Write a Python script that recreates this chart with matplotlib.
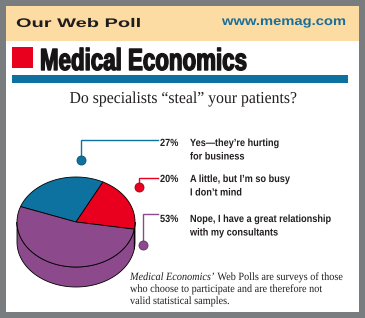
import numpy as np
import matplotlib
matplotlib.use('Agg')
import matplotlib.pyplot as plt
from matplotlib.patches import Polygon, Rectangle
from matplotlib.patheffects import AbstractPathEffect
from matplotlib.transforms import Affine2D

# poll data
answers = ['Yes\u2014they\u2019re hurting\nfor business',
           'A little, but I\u2019m so busy\nI don\u2019t mind',
           'Nope, I have a great relationship\nwith my consultants']
shares = [27, 20, 53]
colors = ['#0e72a0', '#e8001e', '#8c4a8c']
dot_edge = ['#08506f', '#a00014', '#5e2f5e']

header = 'Our Web Poll'
site = 'www.memag.com'
brand = 'Medical Economics'
question = 'Do specialists \u201csteal\u201d your patients?'
note_italic = 'Medical Economics\u2019'
note_rest = ' Web Polls are surveys of those'
note_lines = ['who choose to participate and are therefore not',
              'valid statistical samples.']

SANS = ['Liberation Sans', 'DejaVu Sans']
SERIF = ['Liberation Serif', 'DejaVu Serif']
INK = '#231f20'


class Squeeze(AbstractPathEffect):
    """Scale glyphs horizontally about x0 (pixels) -- poor man's narrow font."""

    def __init__(self, sx, x0, stroke=0.0):
        super().__init__()
        self.sx, self.x0, self.stroke = sx, x0, stroke

    def draw_path(self, renderer, gc, tpath, affine, rgbFace=None):
        aff = affine + Affine2D().translate(-self.x0, 0).scale(
            self.sx, 1).translate(self.x0, 0)
        if self.stroke:
            gc0 = renderer.new_gc()
            gc0.copy_properties(gc)
            gc0.set_linewidth(self.stroke)
            gc0.set_foreground(rgbFace)
            renderer.draw_path(gc0, tpath, aff, rgbFace)
            gc0.restore()
        else:
            renderer.draw_path(gc, tpath, aff, rgbFace)


def label(x, y, s, sx, **kw):
    kw.setdefault('va', 'baseline')
    kw.setdefault('color', INK)
    return ax.text(x, y, s, path_effects=[Squeeze(sx, x)], **kw)


fig = plt.figure(figsize=(3.65, 3.18), dpi=100)
fig.patch.set_facecolor('#7a7d80')
ax = fig.add_axes([0, 0, 1, 1])
ax.set_xlim(0, 365)
ax.set_ylim(318, 0)
ax.axis('off')

# panel and header band
ax.add_patch(Rectangle((6, 6), 353, 306, color='white', lw=0))
ax.add_patch(Rectangle((6, 6), 353, 35, color='#fddca4', lw=0))
label(16, 27, header, 1.6, fontsize=9, fontweight='bold', family=SANS,
      color='#1e1c1c')
label(222, 25, site, 1.18, fontsize=9, fontweight='bold', family=SANS,
      color='#1a6e9a')

# masthead
ax.add_patch(Rectangle((12, 47), 21, 21, color='#e8001e', lw=0))
ax.text(40, 70, brand, fontsize=22, fontweight='bold', color='#161414',
        family=SANS, va='baseline',
        path_effects=[Squeeze(0.73, 40, stroke=1.0)])
ax.add_patch(Rectangle((12, 75), 336, 8, color='#0e72a0', lw=0))

label(183, 103, question, 0.945, fontsize=12, family=SERIF, ha='center')

# 3-D pie, drawn from the shares
cx, cy, a, b, depth = 76, 222, 59, 45, 20
start = 160.0
angles = start - np.cumsum([0] + shares) * 3.6


def rim(t1, t2, dy=0.0):
    t = np.radians(np.linspace(t1, t2, 80))
    return np.column_stack([cx + a * np.cos(t), cy - b * np.sin(t) + dy])


# side walls (front half only)
for i, c in enumerate(colors):
    hi, lo = angles[i], angles[i + 1]
    for f1, f2 in [(-180, 0), (180, 360)]:
        s1, s2 = max(lo, f1), min(hi, f2)
        if s2 > s1:
            pts = np.vstack([rim(s1, s2), rim(s2, s1, depth)])
            ax.add_patch(Polygon(pts, closed=True, fc=c, ec='black', lw=0.6))

# top face
for i, c in enumerate(colors):
    pts = np.vstack([[cx, cy], rim(angles[i], angles[i + 1])])
    ax.add_patch(Polygon(pts, closed=True, fc=c, ec='black', lw=0.6,
                         joinstyle='round'))

# callouts: dot, elbow line, percentage and answer text
dots = [(81, 160), (139, 187), (143, 245)]
elbows = [140, 178, 214]
baselines = [146, 182, 222]
for i, txt in enumerate(answers):
    dx, dy = dots[i]
    ax.plot([dx, dx, 158], [dy, elbows[i], elbows[i]], color=colors[i],
            lw=1.0, solid_joinstyle='miter')
    ax.plot(dx, dy, 'o', ms=6.5, color=colors[i], mec=dot_edge[i], mew=0.6)
    label(160, baselines[i], '%d%%' % shares[i], 0.88, fontsize=7.5,
          fontweight='bold', family=SANS)
    first, second = txt.split('\n')
    label(190, baselines[i], first, 0.88, fontsize=7.5, fontweight='bold',
          family=SANS)
    label(190, baselines[i] + 13.5, second, 0.88, fontsize=7.5,
          fontweight='bold', family=SANS)

# footnote
fx, fsx = 130, 0.92
t = ax.text(fx, 280, note_italic, fontsize=8, style='italic', color=INK,
            family=SERIF, va='baseline', path_effects=[Squeeze(fsx, fx)])
fig.canvas.draw()
bb = t.get_window_extent().transformed(ax.transData.inverted())
ax.text(bb.x1, 280, note_rest, fontsize=8, color=INK, family=SERIF,
        va='baseline', path_effects=[Squeeze(fsx, fx)])
for k, line in enumerate(note_lines):
    label(fx, 292 + 12 * k, line, fsx, fontsize=8, family=SERIF)

fig.savefig('out.png', dpi=100, facecolor=fig.get_facecolor())
